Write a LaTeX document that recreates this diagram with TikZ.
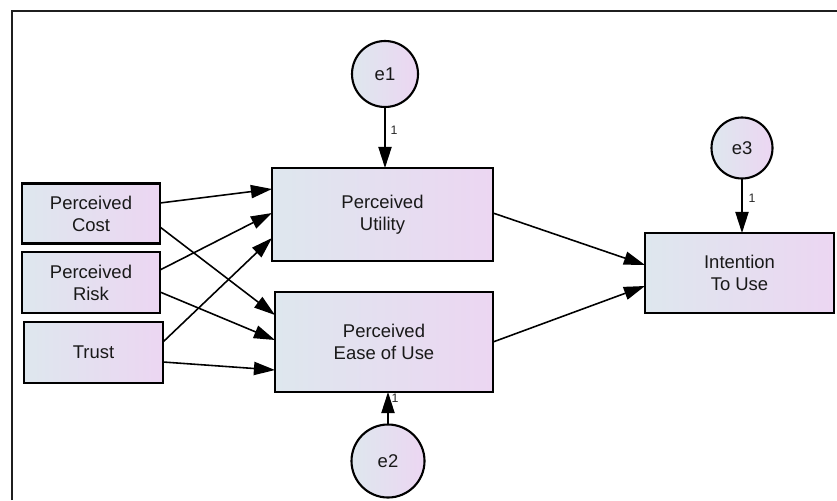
\documentclass[tikz,border=0pt]{standalone}
\usepackage{fontspec}
\setmainfont{Liberation Sans}
\usetikzlibrary{arrows.meta,calc}
\definecolor{boxleft}{RGB}{222,231,238}
\definecolor{boxright}{RGB}{236,214,242}

\begin{document}
\begin{tikzpicture}[scale=0.2]
\tikzstyle{every node}+=[inner sep=0pt, outer sep=0pt]
\tikzstyle{var}=[draw=black, line width=1.2pt, left color=boxleft, right color=boxright, align=center, font=\fontsize{10.5}{12.5}\selectfont, text=black!90]
\tikzstyle{err}=[var, circle]
\tikzstyle{path}=[black, line width=0.9pt, -{Triangle[length=12pt, width=7.5pt]}]
\tikzstyle{wt}=[font=\fontsize{7}{8}\selectfont, text=black!85]
\useasboundingbox (0,0) rectangle (83.7,-50);
% frame
\draw [black!88, line width=1.7pt] (1.2,-50) -- (1.2,-1.1) -- (83.7,-1.1);
% observed variables
\node [var, minimum width=2.76cm, minimum height=1.2cm] (cost) at (9.1,-21.35) {Perceived\\Cost};
\node [var, minimum width=2.76cm, minimum height=1.22cm] (risk) at (9.1,-28.25) {Perceived\\Risk};
\node [var, minimum width=2.78cm, minimum height=1.22cm] (trust) at (9.35,-35.25) {Trust};
\node [var, minimum width=4.42cm, minimum height=1.86cm] (util) at (38.25,-21.45) {Perceived\\Utility};
\node [var, minimum width=4.36cm, minimum height=2cm] (ease) at (38.4,-34.2) {Perceived\\Ease of Use};
\node [var, minimum width=3.78cm, minimum height=1.6cm] (intent) at (73.95,-27.3) {Intention\\To Use};
% error terms
\node [err, minimum size=1.32cm] (e1) at (38.5,-7.4) {e1};
\node [err, minimum size=1.46cm] (e2) at (38.8,-46.1) {e2};
\node [err, minimum size=1.22cm] (e3) at (74.2,-14.8) {e3};
% paths
\draw [path] ($(cost.east)+(0,1.05)$) -- ($(util.west)+(0,2.55)$);
\draw [path] ($(cost.east)+(0,-1.35)$) -- ($(ease.west)+(0,2.7)$);
\draw [path] ($(risk.east)+(0,1.25)$) -- ($(util.west)+(0,0.15)$);
\draw [path] ($(risk.east)+(0,-0.95)$) -- ($(ease.west)+(0,0.2)$);
\draw [path] ($(trust.east)+(0,1.05)$) -- ($(util.west)+(0,-2.35)$);
\draw [path] ($(trust.east)+(0,-0.95)$) -- ($(ease.west)+(0,-2.8)$);
\draw [path] ($(util.east)+(0,0.15)$) -- ($(intent.west)+(0,0.8)$);
\draw [path] (ease.east) -- ($(intent.west)+(0,-1.3)$);
\draw [path] (e1) -- (util.north -| e1);
\draw [path] (e2) -- (ease.south -| e2);
\draw [path] (e3) -- (intent.north -| e3);
% weights
\node [wt] (w1) at (39.4,-13) {1};
\node [wt] (w2) at (39.5,-39.8) {1};
\node [wt] (w3) at (75.2,-19.8) {1};
\end{tikzpicture}
\end{document}
